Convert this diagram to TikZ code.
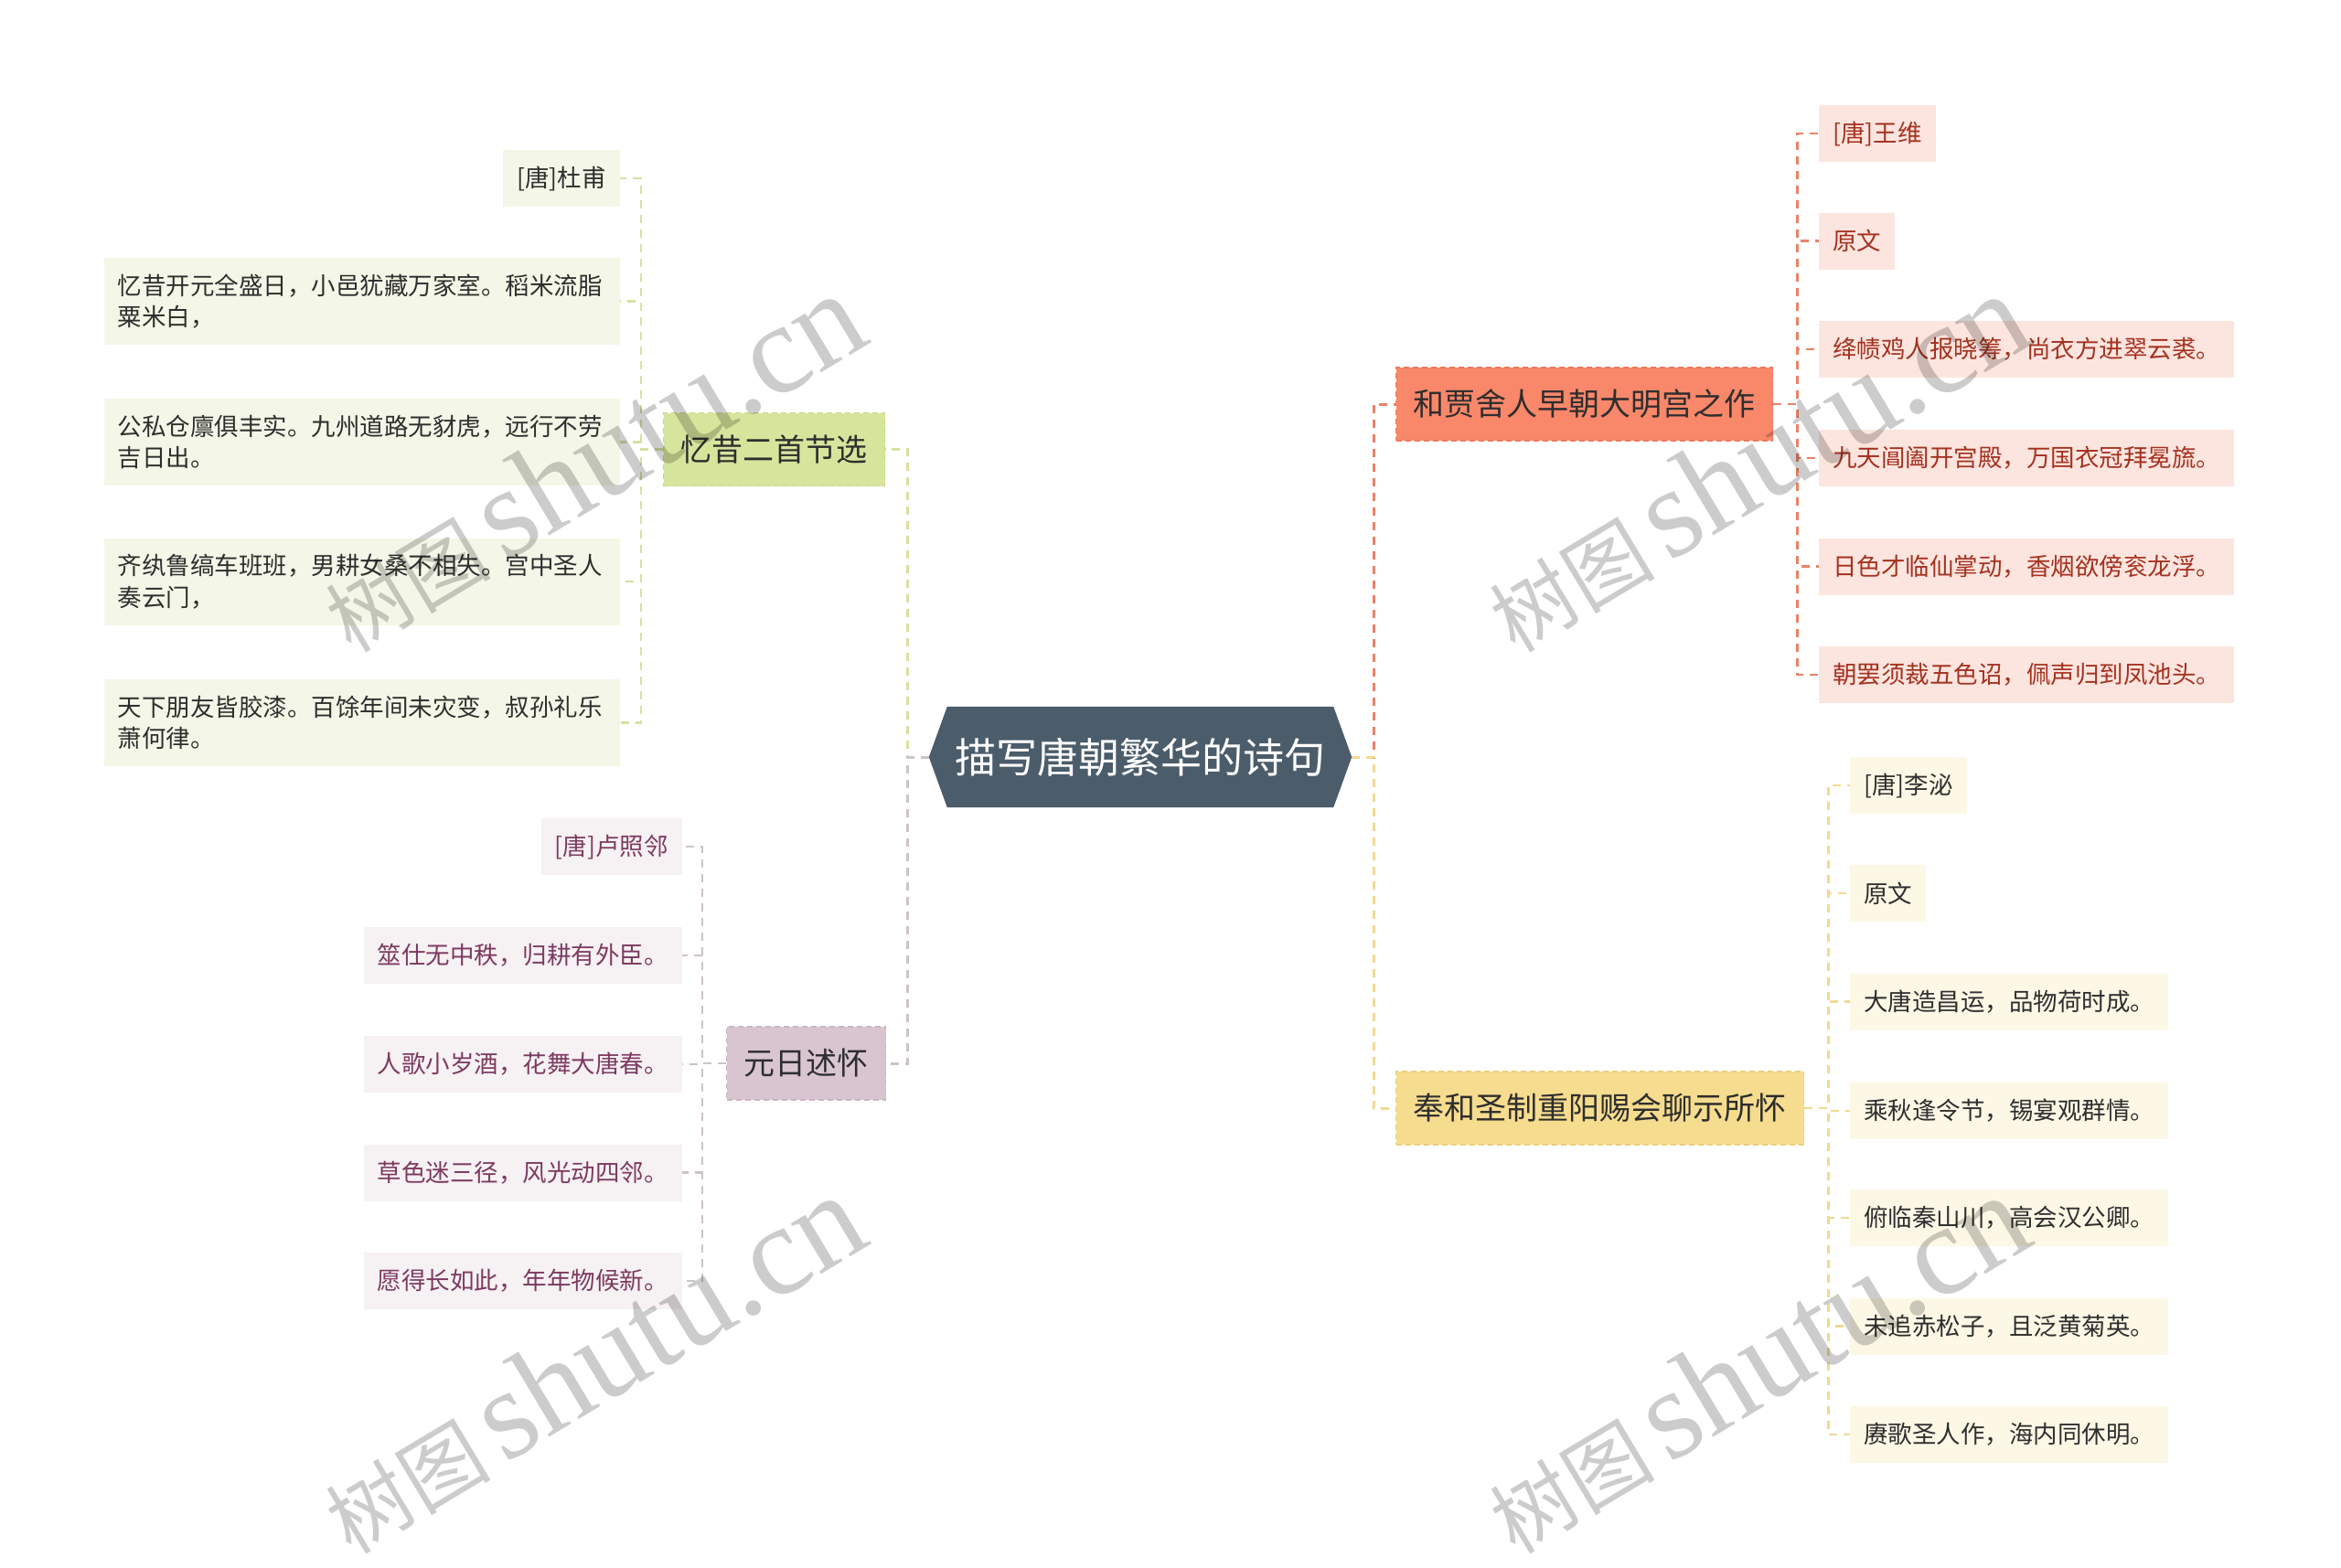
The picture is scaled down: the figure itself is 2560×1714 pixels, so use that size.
\documentclass[tikz,border=0pt]{standalone}
\usepackage{fontspec}
\setmainfont{Noto Sans CJK SC}
\newfontfamily\wmserif{Liberation Serif}
\pgfdeclarelayer{bg}
\pgfdeclarelayer{fg}
\pgfsetlayers{bg,main,fg}
\definecolor{cfill}{HTML}{4B5C6B}
\definecolor{gfill}{HTML}{D6E59C}
\definecolor{gborder}{HTML}{C8D98A}
\definecolor{gline}{HTML}{D5E2A0}
\definecolor{gleaf}{HTML}{F4F7E7}
\definecolor{mfill}{HTML}{D9C5CF}
\definecolor{mborder}{HTML}{CBB6C1}
\definecolor{mline}{HTML}{CCC3C8}
\definecolor{mleaf}{HTML}{F6F1F3}
\definecolor{mtext}{HTML}{7D3A60}
\definecolor{ofill}{HTML}{F9876A}
\definecolor{oborder}{HTML}{EC7A5E}
\definecolor{oline}{HTML}{E8826A}
\definecolor{oleaf}{HTML}{FDE5DF}
\definecolor{otext}{HTML}{A4311F}
\definecolor{yfill}{HTML}{F6DC8E}
\definecolor{yborder}{HTML}{EBCF7C}
\definecolor{yline}{HTML}{F0DA92}
\definecolor{yleaf}{HTML}{FDF8E6}
\definecolor{dtext}{HTML}{2E2E2E}
\tikzset{
  leaf/.style={inner xsep=15pt, inner ysep=0pt, minimum height=62pt,
    font=\fontsize{26.5}{34.3}\selectfont, text=dtext},
  leaftwo/.style={leaf, text width=534pt, align=left, minimum height=95pt},
  topic/.style={inner xsep=19pt, inner ysep=0pt, minimum height=80pt,
    font=\fontsize{34}{40}\selectfont, text=dtext, line width=1.5pt,
    dash pattern=on 6pt off 4pt},
  conn/.style={line width=3pt, dash pattern=on 9pt off 7pt},
  lconn/.style={line width=2.5pt, dash pattern=on 9pt off 7pt},
  wmark/.style={rotate=31, text=black, opacity=0.2, inner sep=0pt}
}
\begin{document}
\begin{tikzpicture}[x=1pt,y=-1pt]
\useasboundingbox (0,0) rectangle (2560,1714);
\begin{pgfonlayer}{bg}
\fill[white] (0,0) rectangle (2560,1714);
\end{pgfonlayer}

% central node
\node[inner sep=0pt, minimum width=462pt, minimum height=110pt,
  font=\fontsize{45}{50}\selectfont, text=white] (c) at (1247,828) {描写唐朝繁华的诗句};

% level-1 topics
\node[topic, fill=gfill, draw=gborder] (yx) at (846.5,491.5) {忆昔二首节选};
\node[topic, fill=mfill, draw=mborder] (yr) at (881.5,1163) {元日述怀};
\node[topic, fill=ofill, draw=oborder] (hj) at (1732.5,442) {和贾舍人早朝大明宫之作};
\node[topic, fill=yfill, draw=yborder] (fh) at (1749.5,1212) {奉和圣制重阳赐会聊示所怀};

% leaves of 忆昔二首节选
\node[leaf, fill=gleaf, anchor=east] (d0) at (678,195) {[唐]杜甫};
\node[leaftwo, fill=gleaf, anchor=east] (d1) at (678,329.5) {忆昔开元全盛日，小邑犹藏万家室。稻米流脂\\粟米白，};
\node[leaftwo, fill=gleaf, anchor=east] (d2) at (678,483.5) {公私仓廪俱丰实。九州道路无豺虎，远行不劳\\吉日出。};
\node[leaftwo, fill=gleaf, anchor=east] (d3) at (678,636) {齐纨鲁缟车班班，男耕女桑不相失。宫中圣人\\奏云门，};
\node[leaftwo, fill=gleaf, anchor=east] (d4) at (678,790.5) {天下朋友皆胶漆。百馀年间未灾变，叔孙礼乐\\萧何律。};

% leaves of 元日述怀
\node[leaf, fill=mleaf, text=mtext, anchor=east] (r0) at (746,926) {[唐]卢照邻};
\node[leaf, fill=mleaf, text=mtext, anchor=east] (r1) at (746,1045) {筮仕无中秩，归耕有外臣。};
\node[leaf, fill=mleaf, text=mtext, anchor=east] (r2) at (746,1164) {人歌小岁酒，花舞大唐春。};
\node[leaf, fill=mleaf, text=mtext, anchor=east] (r3) at (746,1282.5) {草色迷三径，风光动四邻。};
\node[leaf, fill=mleaf, text=mtext, anchor=east] (r4) at (746,1401) {愿得长如此，年年物候新。};

% leaves of 和贾舍人早朝大明宫之作
\node[leaf, fill=oleaf, text=otext, anchor=west] (h0) at (1989,146) {[唐]王维};
\node[leaf, fill=oleaf, text=otext, anchor=west] (h1) at (1989,263.5) {原文};
\node[leaf, fill=oleaf, text=otext, anchor=west] (h2) at (1989,382) {绛帻鸡人报晓筹，尚衣方进翠云裘。};
\node[leaf, fill=oleaf, text=otext, anchor=west] (h3) at (1989,501) {九天阊阖开宫殿，万国衣冠拜冕旒。};
\node[leaf, fill=oleaf, text=otext, anchor=west] (h4) at (1989,619.5) {日色才临仙掌动，香烟欲傍衮龙浮。};
\node[leaf, fill=oleaf, text=otext, anchor=west] (h5) at (1989,738) {朝罢须裁五色诏，佩声归到凤池头。};

% leaves of 奉和圣制重阳赐会聊示所怀
\node[leaf, fill=yleaf, anchor=west] (f0) at (2023,859) {[唐]李泌};
\node[leaf, fill=yleaf, anchor=west] (f1) at (2023,977) {原文};
\node[leaf, fill=yleaf, anchor=west] (f2) at (2023,1095.5) {大唐造昌运，品物荷时成。};
\node[leaf, fill=yleaf, anchor=west] (f3) at (2023,1215) {乘秋逢令节，锡宴观群情。};
\node[leaf, fill=yleaf, anchor=west] (f4) at (2023,1332) {俯临秦山川，高会汉公卿。};
\node[leaf, fill=yleaf, anchor=west] (f5) at (2023,1450.5) {未追赤松子，且泛黄菊英。};
\node[leaf, fill=yleaf, anchor=west] (f6) at (2023,1569) {赓歌圣人作，海内同休明。};

\begin{pgfonlayer}{bg}
% connectors from the central node
\draw[conn, draw=gline] (c.west) -- ++(-23,0) |- (yx.east);
\draw[conn, draw=mline] (c.west) -- ++(-23,0) |- (yr.east);
\draw[conn, draw=oline] (c.east) -- ++(24,0) |- (hj.west);
\draw[conn, draw=yline] (c.east) -- ++(24,0) |- (fh.west);
% connectors to leaves
\foreach \n in {d0,d1,d2,d3,d4}
  \draw[lconn, draw=gline] (yx.west) -- ++(-24,0) |- (\n.east);
\foreach \n in {r0,r1,r2,r3,r4}
  \draw[lconn, draw=mline] (yr.west) -- ++(-26,0) |- (\n.east);
\foreach \n in {h0,h1,h2,h3,h4,h5}
  \draw[lconn, draw=oline] (hj.east) -- ++(26,0) |- (\n.west);
\foreach \n in {f0,f1,f2,f3,f4,f5,f6}
  \draw[lconn, draw=yline] (fh.east) -- ++(26,0) |- (\n.west);
% hexagon of the central node
\fill[cfill] ([xshift=20pt]c.north west) -- ([xshift=-20pt]c.north east) -- (c.east)
  -- ([xshift=-20pt]c.south east) -- ([xshift=20pt]c.south west) -- (c.west) -- cycle;
\end{pgfonlayer}

% watermark
\begin{pgfonlayer}{fg}
\node[wmark] (w1) at (647,506) {\fontsize{90}{90}\selectfont 树图\,{\wmserif\fontsize{140}{140}\selectfont shutu.cn}};
\node[wmark] (w2) at (1920,506) {\fontsize{90}{90}\selectfont 树图\,{\wmserif\fontsize{140}{140}\selectfont shutu.cn}};
\node[wmark] (w3) at (647,1492) {\fontsize{90}{90}\selectfont 树图\,{\wmserif\fontsize{140}{140}\selectfont shutu.cn}};
\node[wmark] (w4) at (1920,1492) {\fontsize{90}{90}\selectfont 树图\,{\wmserif\fontsize{140}{140}\selectfont shutu.cn}};
\end{pgfonlayer}
\end{tikzpicture}
\end{document}
